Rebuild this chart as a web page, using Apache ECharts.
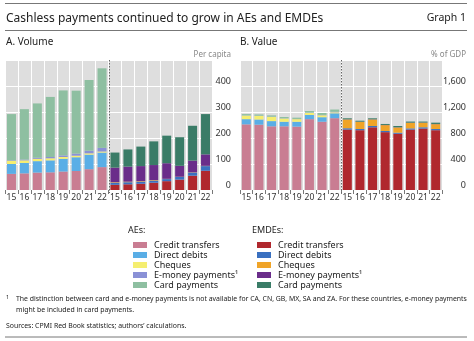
<!DOCTYPE html>
<html>
<head>
<meta charset="utf-8">
<script src="https://cdn.jsdelivr.net/npm/echarts@6/dist/echarts.min.js"></script>
<style>
  html, body { margin: 0; padding: 0; background: #fff; }
  #chart { width: 474px; height: 341px; }
</style>
</head>
<body>
<div id="chart"></div>
<script>
// Years shown under each group of bars
const years = ['15', '16', '17', '18', '19', '20', '21', '22'];
const groups = ['AEs', 'EMDEs'];
const instruments = ['Credit transfers', 'Direct debits', 'Cheques', 'E-money payments¹', 'Card payments'];

// A. Volume (transactions per capita)
const volAeCredit = [62, 64, 67, 68, 71, 73, 80, 88];
const volAeDebit  = [38, 40, 44, 46, 49, 53, 56, 56];
const volAeCheque = [12, 10, 9, 8, 7, 6, 5, 4];
const volAeEmoney = [2, 3, 4, 5, 6, 8, 10, 14];
const volAeCard   = [178, 194, 209, 231, 250, 242, 272, 306];
const volEmCredit = [20, 22, 24, 28, 34, 40, 55, 74];
const volEmDebit  = [8, 8, 8, 8, 8, 10, 12, 18];
const volEmCheque = [2, 2, 2, 2, 1, 1, 1, 1];
const volEmEmoney = [56, 58, 58, 58, 60, 42, 45, 44];
const volEmCard   = [58, 66, 75, 91, 106, 110, 134, 155];

// B. Value (% of GDP)
const valAeCredit = [1010, 1005, 980, 980, 975, 1090, 1050, 1105];
const valAeDebit  = [80, 80, 80, 70, 75, 65, 70, 75];
const valAeCheque = [55, 55, 65, 50, 40, 30, 30, 15];
const valAeEmoney = [3, 3, 3, 3, 3, 5, 5, 8];
const valAeCard   = [20, 20, 20, 20, 20, 25, 30, 35];
const valEmCredit = [930, 920, 965, 890, 865, 930, 945, 920];
const valEmDebit  = [20, 18, 20, 18, 17, 18, 20, 18];
const valEmCheque = [135, 110, 100, 90, 80, 85, 70, 75];
const valEmEmoney = [3, 3, 3, 3, 3, 3, 3, 3];
const valEmCard   = [15, 15, 15, 15, 20, 17, 15, 20];

// Axis tick labels
const volTicks = [0, 100, 200, 300, 400];
const valTicks = [0, 400, 800, 1200, 1600];

const aeColors = ['#c97d92', '#5aaee6', '#f5ee70', '#8a91d6', '#8ebfa1'];
const emColors = ['#b0282e', '#3a70c0', '#f0a428', '#6a2d8a', '#3a7c67'];

const keys = [];
groups.forEach(g => years.forEach(y => keys.push(g + ' ' + y)));
const pad = new Array(years.length).fill('-');
const inAe = arr => arr.concat(pad);
const inEm = arr => pad.concat(arr);

const FONT = '"Noto Sans", "Open Sans", sans-serif';

function panelSeries(gridIndex, aeSets, emSets) {
  const out = [];
  aeSets.forEach((d, i) => out.push({
    name: 'AEs: ' + instruments[i], type: 'bar', stack: 'p' + gridIndex,
    xAxisIndex: gridIndex, yAxisIndex: gridIndex, barWidth: 9,
    itemStyle: { color: aeColors[i] }, data: inAe(d), silent: true
  }));
  emSets.forEach((d, i) => out.push({
    name: 'EMDEs: ' + instruments[i], type: 'bar', stack: 'p' + gridIndex,
    xAxisIndex: gridIndex, yAxisIndex: gridIndex, barWidth: 9,
    itemStyle: { color: emColors[i] }, data: inEm(d), silent: true
  }));
  return out;
}

function xAxis(gridIndex) {
  return {
    gridIndex, type: 'category', data: keys, boundaryGap: true,
    axisLine: { show: false },
    axisTick: { show: true, interval: 0, length: 4, lineStyle: { color: '#777' } },
    axisLabel: { interval: 0, fontSize: 8.5, color: '#333', margin: 3, fontFamily: FONT,
                 formatter: v => v.split(' ')[1] },
    splitLine: { show: true, interval: 0, lineStyle: { color: '#fff', width: 1 } }
  };
}

function yAxis(gridIndex, max, interval, ticks, margin) {
  return {
    gridIndex, type: 'value', position: 'right', min: 0, max, interval,
    axisLine: { show: false }, axisTick: { show: false },
    axisLabel: {
      align: 'right', margin, fontSize: 9, color: '#333', verticalAlign: 'bottom', fontFamily: FONT,
      formatter: v => ticks.includes(v) ? v.toLocaleString('en-US') : ''
    },
    splitLine: { lineStyle: { color: '#fff', width: 1 } }
  };
}

function legend(group, left) {
  return {
    orient: 'vertical', left, top: 235, itemWidth: 14, itemHeight: 6, itemGap: 0,
    icon: 'rect', selectedMode: false,
    data: instruments.map(n => group + ': ' + n),
    formatter: n => n.slice(group.length + 2),
    textStyle: { fontSize: 9, lineHeight: 10, color: '#222', fontFamily: FONT, padding: [0, 0, 0, 2] }
  };
}

function txt(text, x, y, size, color, align) {
  return { type: 'text', x, y, silent: true,
    style: { text, font: size + 'px ' + FONT, fill: color || '#222',
             textAlign: align || 'left', textVerticalAlign: 'middle' } };
}
function rule(y) {
  return { type: 'line', silent: true, shape: { x1: 5, y1: y, x2: 467, y2: y },
           style: { stroke: '#777', lineWidth: 1 } };
}

const staticGraphics = [
  rule(3.5),
  txt('Cashless payments continued to grow in AEs and EMDEs', 6, 18.5, 12, '#222'),
  txt('Graph 1', 466, 18.5, 10.5, '#222', 'right'),
  rule(30.5),
  txt('A. Volume', 6, 42, 10, '#222'),
  txt('B. Value', 240, 42, 10, '#222'),
  txt('Per capita', 231, 55, 8, '#888', 'right'),
  txt('% of GDP', 466, 55, 8, '#888', 'right'),
  txt('AEs:', 128, 230, 9, '#222'),
  txt('EMDEs:', 252, 230, 9, '#222'),
  txt('1', 6, 297, 5.5, '#222'),
  txt('The distinction between card and e-money payments is not available for CA, CN, GB, MX, SA and ZA. For these countries, e-money payments', 16, 299, 6.9, '#222'),
  txt('might be included in card payments.', 16, 310, 6.9, '#222'),
  txt('Sources: CPMI Red Book statistics; authors\u2019 calculations.', 6, 326, 6.9, '#222'),
  rule(337)
];

const option = {
  animation: false,
  textStyle: { fontFamily: FONT },
  grid: [
    { left: 5, right: 262, top: 60, bottom: 151, show: true, backgroundColor: '#dedede', borderWidth: 0 },
    { left: 240, right: 32, top: 60, bottom: 151, show: true, backgroundColor: '#dedede', borderWidth: 0 }
  ],
  xAxis: [xAxis(0), xAxis(1)],
  yAxis: [yAxis(0, 500, 100, volTicks, 19), yAxis(1, 2000, 400, valTicks, 24)],
  legend: [legend('AEs', 128), legend('EMDEs', 252)],
  series: [
    ...panelSeries(0, [volAeCredit, volAeDebit, volAeCheque, volAeEmoney, volAeCard],
                      [volEmCredit, volEmDebit, volEmCheque, volEmEmoney, volEmCard]),
    ...panelSeries(1, [valAeCredit, valAeDebit, valAeCheque, valAeEmoney, valAeCard],
                      [valEmCredit, valEmDebit, valEmCheque, valEmEmoney, valEmCard])
  ],
  graphic: staticGraphics
};

const chart = echarts.init(document.getElementById('chart'), null, { renderer: 'canvas' });
chart.setOption(option);

// Dotted separator between the AE and EMDE groups in each panel
const dividers = [0, 1].map(i => {
  const a = chart.convertToPixel({ xAxisIndex: i }, keys[years.length - 1]);
  const b = chart.convertToPixel({ xAxisIndex: i }, keys[years.length]);
  const top = chart.convertToPixel({ yAxisIndex: i }, i === 0 ? 500 : 2000);
  const bottom = chart.convertToPixel({ yAxisIndex: i }, 0);
  const x = Math.round((a + b) / 2) + 0.5;
  return { type: 'line', silent: true, z: 100,
    shape: { x1: x, y1: top, x2: x, y2: bottom + 3 },
    style: { stroke: '#666', lineWidth: 1, lineDash: [1.5, 1.5] } };
});
chart.setOption({ graphic: staticGraphics.concat(dividers) });
</script>
</body>
</html>
